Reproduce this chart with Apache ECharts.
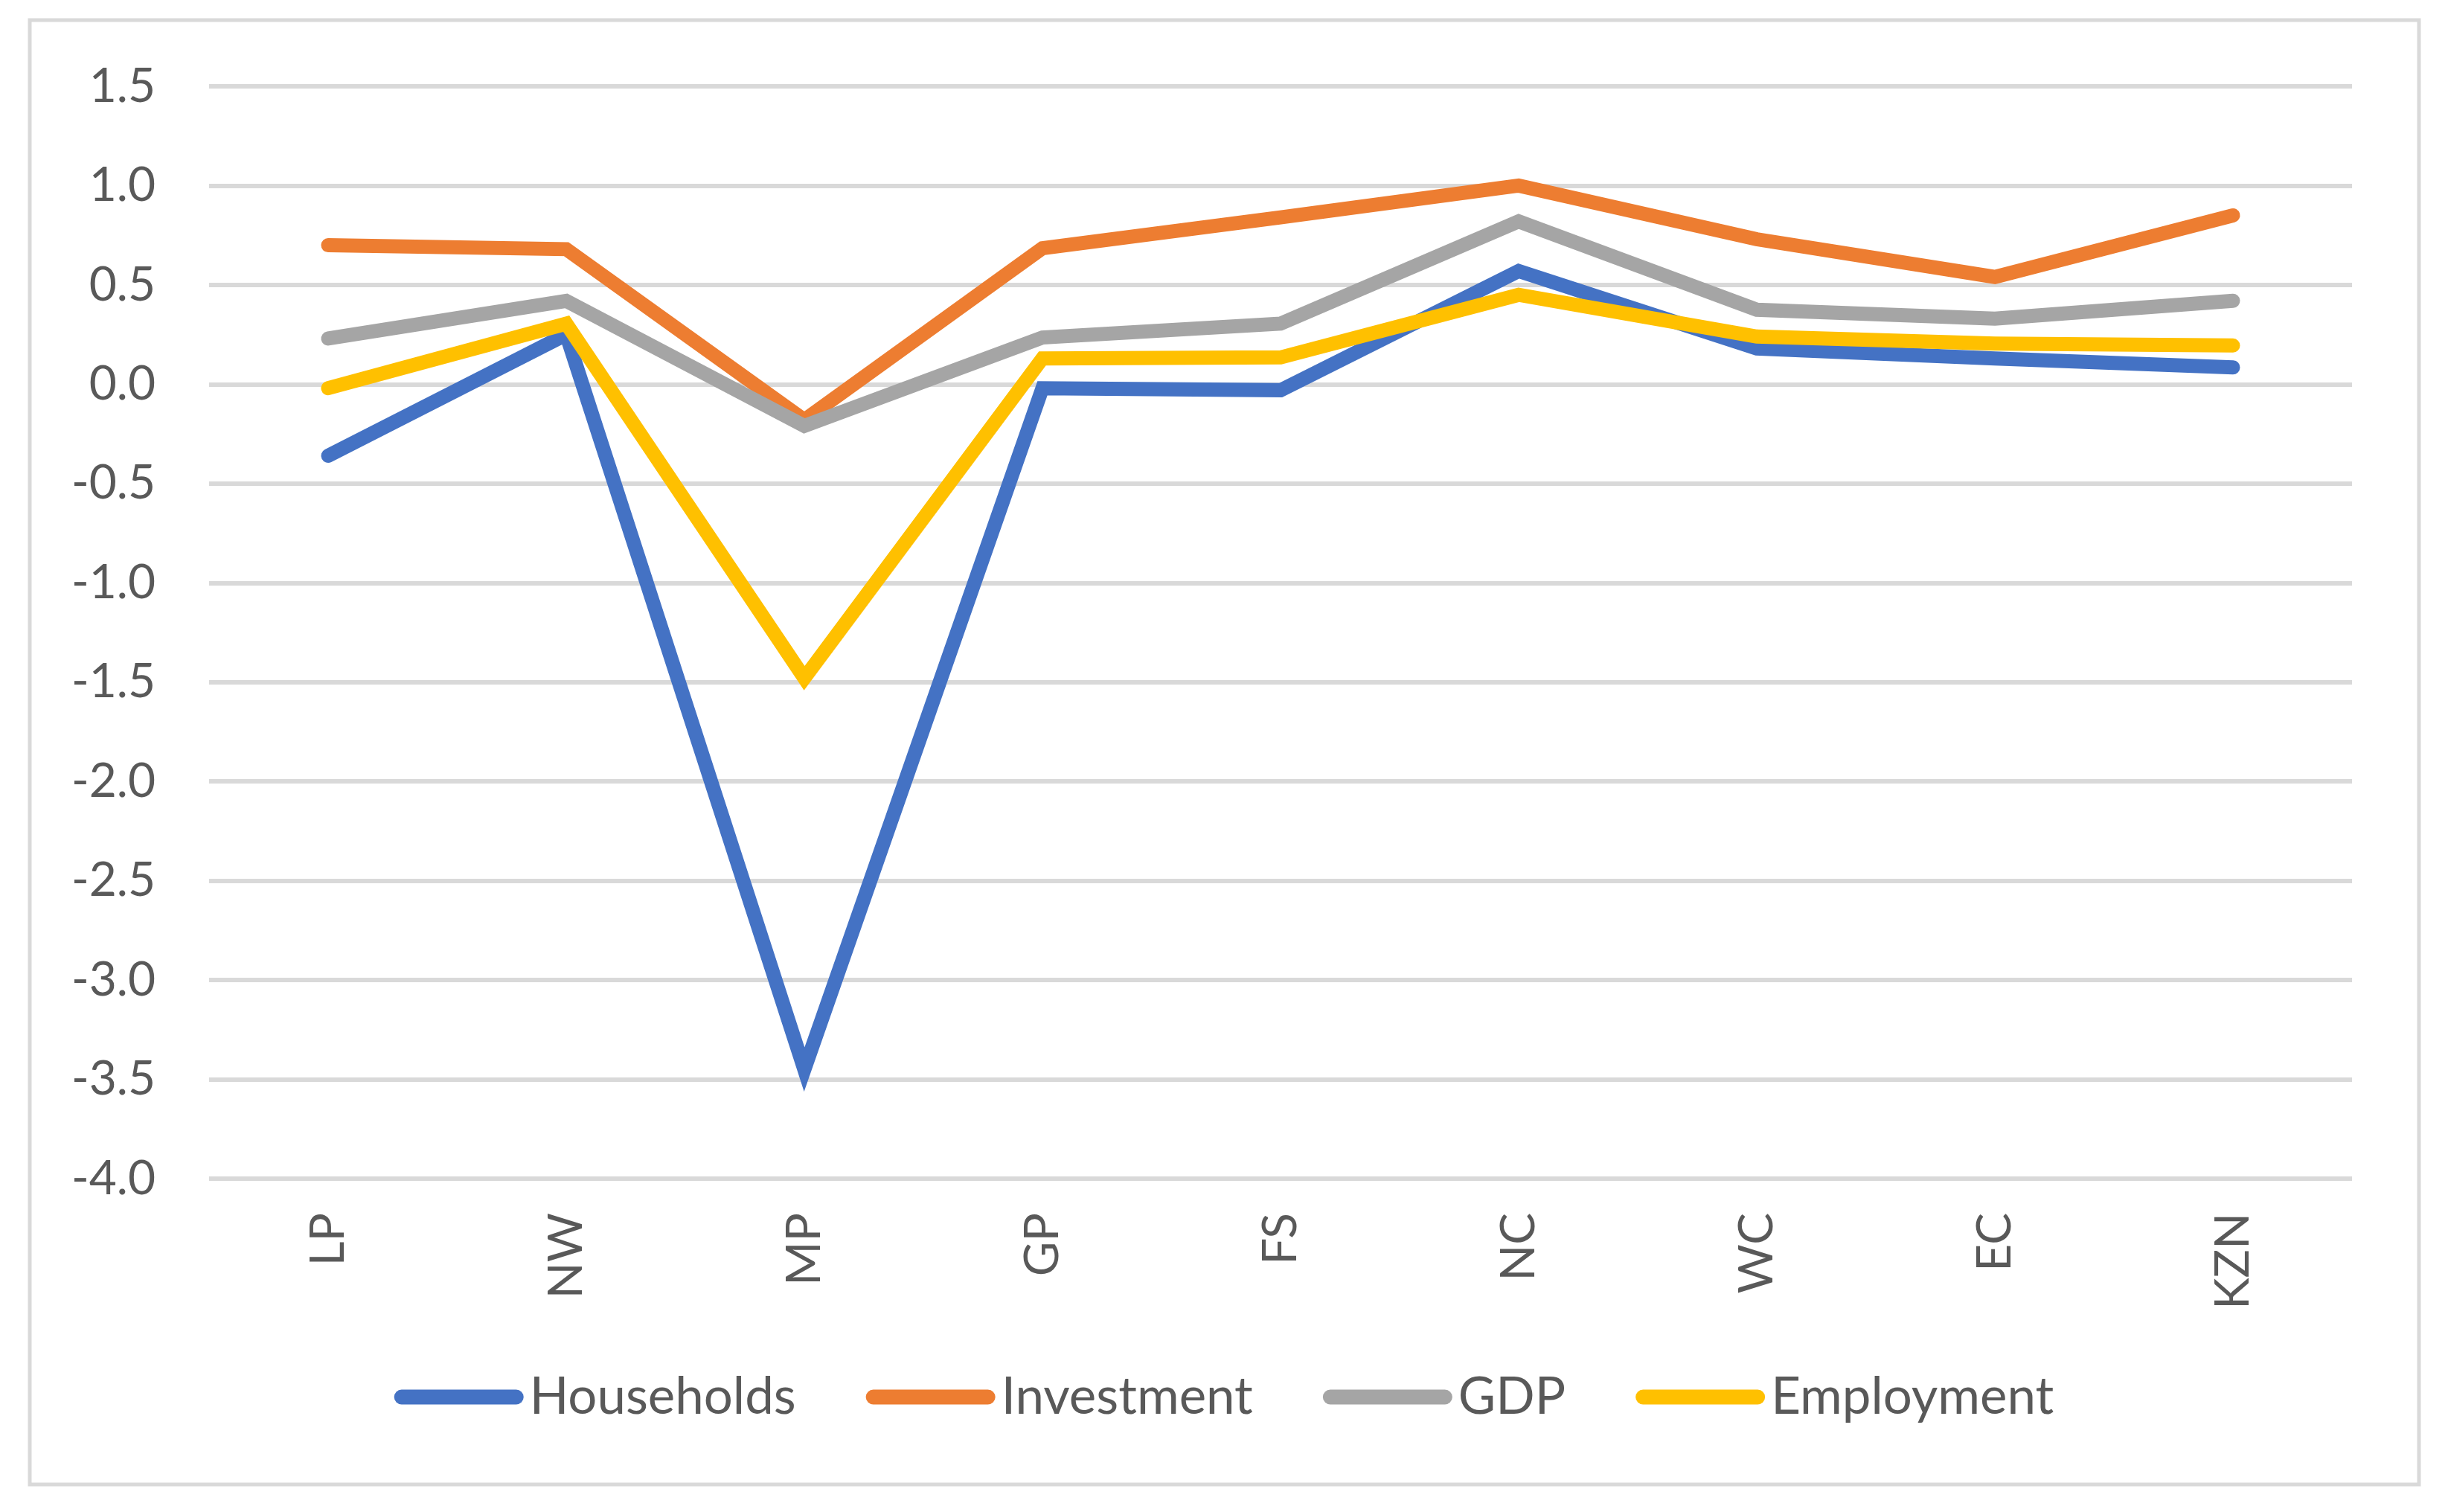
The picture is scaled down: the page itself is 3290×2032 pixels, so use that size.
<!DOCTYPE html>
<html>
<head>
<meta charset="utf-8">
<script src="https://cdn.jsdelivr.net/npm/echarts@6/dist/echarts.min.js"></script>
<style>
html,body{margin:0;padding:0;background:#fff;}
#chart{width:3290px;height:2032px;}
</style>
</head>
<body>
<div id="chart"></div>
<script>
const categories = ['LP','NW','MP','GP','FS','NC','WC','EC','KZN'];
const households = [-0.36, 0.25, -3.45, -0.02, -0.03, 0.57, 0.18, 0.13, 0.085];
const investment = [0.70, 0.68, -0.18, 0.685, 0.84, 1.00, 0.73, 0.54, 0.85];
const gdp        = [0.23, 0.42, -0.21, 0.235, 0.305, 0.82, 0.375, 0.33, 0.42];
const employment = [-0.02, 0.305, -1.48, 0.13, 0.135, 0.45, 0.24, 0.205, 0.195];
const seriesNames = ['Households','Investment','GDP','Employment'];
const colors = ['#4472C4','#ED7D31','#A5A5A5','#FFC000'];

const chart = echarts.init(document.getElementById('chart'));
const font = 'Lato';
const dataSets = [households, investment, gdp, employment];
chart.setOption({
  animation: false,
  backgroundColor: '#ffffff',
  graphic: [{
    type: 'rect',
    shape: {x: 40, y: 27, width: 3211, height: 1968},
    style: {fill: 'none', stroke: '#d9d9d9', lineWidth: 5},
    silent: true, z: -1
  }],
  grid: {left: 281, right: 129, top: 116, bottom: 448, containLabel: false},
  xAxis: {
    type: 'category',
    data: categories,
    boundaryGap: true,
    axisLine: {show: false},
    axisTick: {show: false},
    axisLabel: {rotate: 90, margin: 46, color: '#595959', fontFamily: font, fontSize: 64}
  },
  yAxis: {
    type: 'value',
    min: -4, max: 1.5, interval: 0.5,
    axisLine: {show: false},
    axisTick: {show: false},
    splitLine: {lineStyle: {color: '#d9d9d9', width: 6}},
    axisLabel: {margin: 72, color: '#595959', fontFamily: font, fontSize: 64,
      formatter: v => v.toFixed(1)}
  },
  legend: {
    data: seriesNames,
    left: 'center',
    top: 1838,
    itemWidth: 174,
    itemHeight: 20,
    itemGap: 94,
    icon: 'path://M10,0 H164 A10,10 0 0 1 164,20 H10 A10,10 0 0 1 10,0 Z',
    textStyle: {color: '#595959', fontFamily: font, fontSize: 69, lineHeight: 69, padding: [0, 0, 0, 3]}
  },
  series: seriesNames.map((n, i) => ({
    name: n,
    type: 'line',
    data: dataSets[i],
    symbol: 'none',
    color: colors[i],
    lineStyle: {width: 19, color: colors[i], cap: 'round', join: 'miter'}
  }))
});
</script>
</body>
</html>
